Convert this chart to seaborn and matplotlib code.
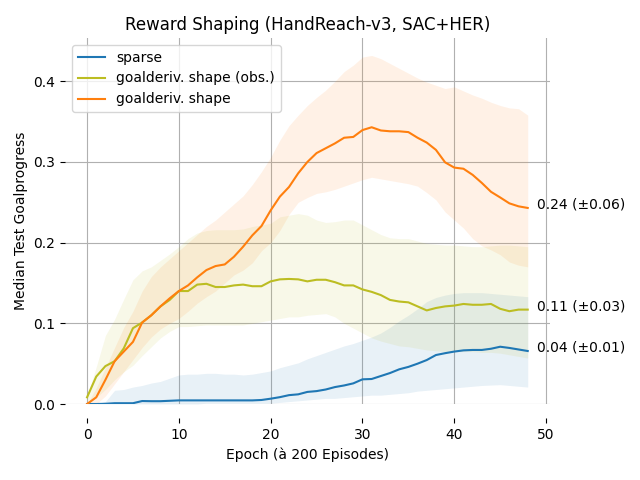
import numpy as np
import pandas as pd
import matplotlib
matplotlib.use("Agg")
import matplotlib.pyplot as plt
import seaborn as sns

epochs = list(range(49))

series_names = ["sparse", "goalderiv. shape (obs.)", "goalderiv. shape"]
series_colors = ["#1f77b4", "#bcbd22", "#ff7f0e"]
end_labels = ["0.04 (±0.01)", "0.11 (±0.03)", "0.24 (±0.06)"]

sparse_med = [0, 0, 0.0003, 0.001, 0.001, 0.001, 0.0037, 0.0035, 0.0035, 0.004,
              0.0045, 0.0045, 0.0045, 0.0045, 0.0045, 0.0045, 0.0045, 0.0045, 0.0045, 0.005,
              0.0066, 0.0085, 0.011, 0.012, 0.015, 0.016, 0.018, 0.021, 0.023, 0.0256,
              0.0306, 0.031, 0.0347, 0.0384, 0.043, 0.046, 0.050, 0.0545, 0.0607, 0.063,
              0.065, 0.0665, 0.067, 0.067, 0.0685, 0.071, 0.0695, 0.0676, 0.0657]
sparse_lo = [0] * 13 + [0.001] * 8 + [0.002, 0.003, 0.004, 0.005, 0.006, 0.007, 0.007,
             0.008, 0.009, 0.010, 0.011, 0.011, 0.012, 0.013, 0.014, 0.016, 0.017, 0.018,
             0.019, 0.020, 0.021, 0.022, 0.023, 0.0235, 0.024, 0.023, 0.022, 0.021]
sparse_hi = [0, 0, 0.003, 0.017, 0.018, 0.021, 0.023, 0.026, 0.028, 0.032,
             0.036, 0.037, 0.037, 0.038, 0.038, 0.037, 0.037, 0.036, 0.037, 0.039,
             0.041, 0.045, 0.048, 0.051, 0.056, 0.060, 0.064, 0.068, 0.072, 0.075,
             0.079, 0.083, 0.088, 0.095, 0.103, 0.110, 0.118, 0.127, 0.132, 0.135,
             0.137, 0.138, 0.138, 0.138, 0.137, 0.136, 0.135, 0.134, 0.133]

obs_med = [0.0083, 0.034, 0.047, 0.053, 0.069, 0.094, 0.101, 0.110, 0.121, 0.129,
           0.140, 0.140, 0.148, 0.149, 0.145, 0.145, 0.147, 0.148, 0.146, 0.146,
           0.152, 0.1545, 0.155, 0.1545, 0.152, 0.154, 0.154, 0.151, 0.147, 0.147,
           0.142, 0.139, 0.135, 0.129, 0.127, 0.126, 0.121, 0.116, 0.119, 0.121,
           0.122, 0.124, 0.123, 0.123, 0.124, 0.118, 0.115, 0.117, 0.117]
obs_lo = [0.0, 0.008, 0.018, 0.030, 0.040, 0.048, 0.060, 0.071, 0.082, 0.090,
          0.096, 0.096, 0.097, 0.098, 0.098, 0.098, 0.098, 0.098, 0.100, 0.102,
          0.104, 0.106, 0.108, 0.108, 0.110, 0.111, 0.112, 0.108, 0.100, 0.094,
          0.088, 0.082, 0.078, 0.075, 0.072, 0.071, 0.069, 0.067, 0.066, 0.065,
          0.065, 0.065, 0.065, 0.064, 0.064, 0.063, 0.061, 0.059, 0.057]
obs_hi = [0.009, 0.046, 0.085, 0.105, 0.130, 0.154, 0.165, 0.170, 0.178, 0.186,
          0.195, 0.205, 0.212, 0.215, 0.216, 0.216, 0.216, 0.217, 0.220, 0.222,
          0.224, 0.232, 0.234, 0.236, 0.234, 0.228, 0.225, 0.226, 0.228, 0.228,
          0.222, 0.216, 0.210, 0.206, 0.205, 0.205, 0.202, 0.199, 0.198, 0.197,
          0.197, 0.196, 0.195, 0.195, 0.196, 0.197, 0.197, 0.196, 0.195]

shape_med = [0.0, 0.0083, 0.030, 0.053, 0.065, 0.077, 0.101, 0.110, 0.121, 0.131,
             0.140, 0.147, 0.157, 0.166, 0.171, 0.173, 0.1825, 0.195, 0.209, 0.2206,
             0.240, 0.257, 0.269, 0.286, 0.300, 0.311, 0.317, 0.323, 0.330, 0.331,
             0.3395, 0.343, 0.339, 0.338, 0.338, 0.337, 0.330, 0.324, 0.315, 0.2995,
             0.293, 0.2916, 0.284, 0.274, 0.263, 0.256, 0.2487, 0.245, 0.243]
shape_lo = [0.0, 0.0, 0.010, 0.025, 0.040, 0.055, 0.070, 0.083, 0.093, 0.100,
            0.106, 0.115, 0.125, 0.133, 0.140, 0.150, 0.160, 0.166, 0.175, 0.190,
            0.200, 0.215, 0.235, 0.250, 0.256, 0.261, 0.263, 0.266, 0.270, 0.274,
            0.278, 0.281, 0.279, 0.277, 0.275, 0.273, 0.270, 0.262, 0.253, 0.238,
            0.228, 0.218, 0.205, 0.196, 0.191, 0.185, 0.176, 0.172, 0.170]
shape_hi = [0.0, 0.020, 0.045, 0.070, 0.095, 0.115, 0.140, 0.158, 0.170, 0.180,
            0.190, 0.200, 0.210, 0.220, 0.228, 0.238, 0.248, 0.258, 0.272, 0.288,
            0.306, 0.327, 0.345, 0.358, 0.370, 0.380, 0.389, 0.400, 0.412, 0.420,
            0.430, 0.432, 0.428, 0.422, 0.416, 0.410, 0.404, 0.399, 0.395, 0.391,
            0.393, 0.388, 0.383, 0.379, 0.374, 0.370, 0.367, 0.366, 0.358]

medians = [sparse_med, obs_med, shape_med]
lows = [sparse_lo, obs_lo, shape_lo]
highs = [sparse_hi, obs_hi, shape_hi]

fig, ax = plt.subplots(figsize=(6.4, 4.8), dpi=100)
fig.subplots_adjust(left=0.1016, right=0.859, bottom=0.1583, top=0.9208)

for name, color, med, lo, hi in zip(series_names, series_colors, medians, lows, highs):
    df = pd.DataFrame({"epoch": epochs, "value": med})
    ax.fill_between(epochs, lo, hi, color=color, alpha=0.1, linewidth=0)
    sns.lineplot(data=df, x="epoch", y="value", color=color, label=name, ax=ax, linewidth=1.5)

for color, med, txt in zip(series_colors, medians, end_labels):
    ax.annotate(txt, xy=(epochs[-1], med[-1]), xytext=(6.7, 2.5),
                textcoords="offset points", va="center", ha="left", fontsize=10)

top = max(max(h) for h in highs)
ax.set_ylim(0, top * 1.05)
ax.set_xlim(-2.4, 50.4)
ax.set_xticks([0, 10, 20, 30, 40, 50])
ax.set_yticks([0.0, 0.1, 0.2, 0.3, 0.4])
ax.grid(True, color="#b0b0b0", linewidth=0.8)
ax.set_axisbelow(True)
for s in ["top", "right", "left", "bottom"]:
    ax.spines[s].set_visible(False)
ax.spines["bottom"].set_position(("outward", 10))

ax.set_title("Reward Shaping (HandReach-v3, SAC+HER)", fontsize=12)
ax.set_xlabel("Epoch (à 200 Episodes)")
ax.set_ylabel("Median Test Goalprogress")
ax.legend(loc="upper left")

fig.savefig("out.png", dpi=100)
